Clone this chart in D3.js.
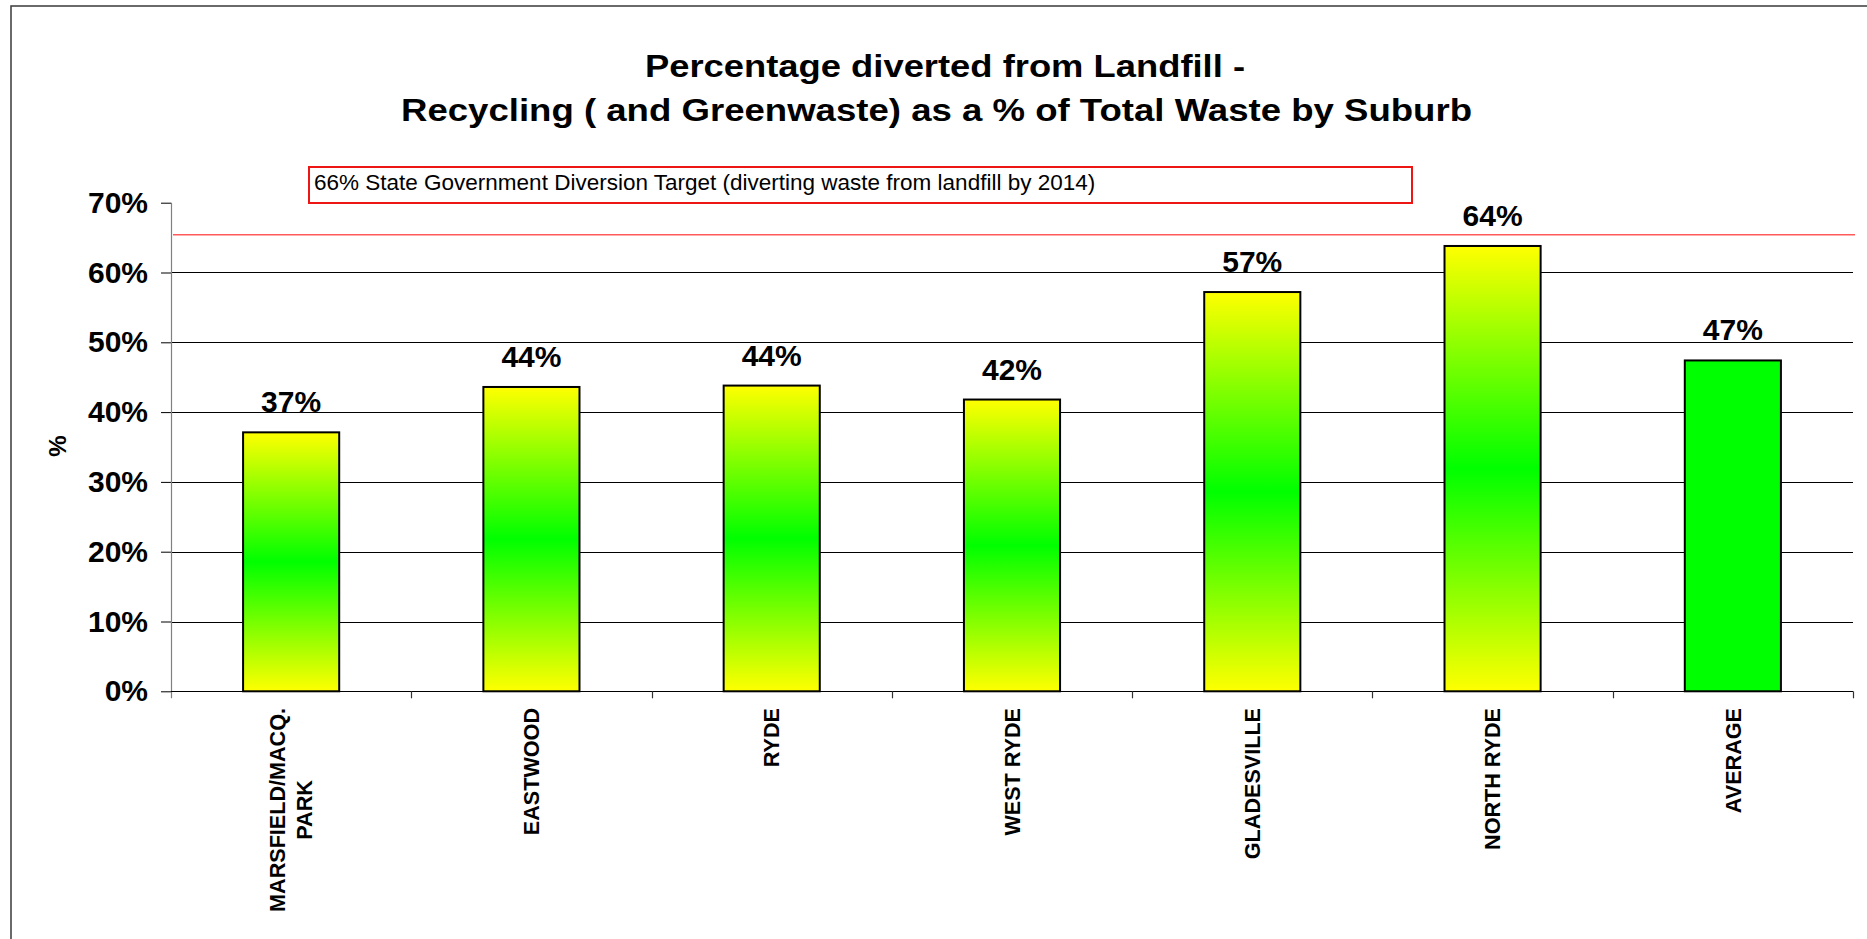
<!DOCTYPE html>
<html>
<head>
  <meta charset="utf-8" />
  <title>Percentage diverted from Landfill</title>
  <style type="text/css">
    body {
      margin: 0;
      background: #fff;
      font-family: Arial, 'Liberation Sans', sans-serif;
    }
  </style>
</head>
<body>
  <div id="graph"></div>

  <script src="https://cdnjs.cloudflare.com/ajax/libs/d3/7.8.5/d3.min.js"></script>
  <script>
// the data
var suburbs = [["MARSFIELD/MACQ.", "PARK"], ["EASTWOOD"], ["RYDE"], ["WEST RYDE"],
               ["GLADESVILLE"], ["NORTH RYDE"], ["AVERAGE"]];
var diverted = [0.371, 0.436, 0.438, 0.418, 0.572, 0.638, 0.474];
var valueLabels = ["37%", "44%", "44%", "42%", "57%", "64%", "47%"];
var yTicks = [0, 0.1, 0.2, 0.3, 0.4, 0.5, 0.6, 0.7];
var targetLine = 0.654;
var targetText = "66% State Government Diversion Target (diverting waste from landfill by 2014)";
var titleLines = ["Percentage diverted from Landfill -",
                  "Recycling ( and Greenwaste) as a % of Total Waste by Suburb"];

var W = 1867, H = 939;
var plot = {left: 171, right: 1853, top: 202.7, bottom: 691.3};

var svg = d3.select("#graph").append("svg")
    .attr("width", W)
    .attr("height", H);

// gradient fill used for the suburb bars
var grad = svg.append("defs").append("linearGradient")
    .attr("id", "yg")
    .attr("x1", 0).attr("y1", 0).attr("x2", 0).attr("y2", 1);
grad.append("stop").attr("offset", "0%").attr("stop-color", "#ffff00");
grad.append("stop").attr("offset", "50%").attr("stop-color", "#00ff00");
grad.append("stop").attr("offset", "100%").attr("stop-color", "#ffff00");

// outer chart frame (runs off the right and bottom of the page)
svg.append("rect")
    .attr("x", 11).attr("y", 6)
    .attr("width", W + 50).attr("height", H + 50)
    .attr("fill", "none")
    .attr("stroke", "#3a3a3a")
    .attr("stroke-width", 1.5);

var keys = suburbs.map(function(d) { return d.join(" "); });

var x = d3.scaleBand()
    .domain(keys)
    .range([plot.left, plot.right])
    .paddingInner(0.6)
    .paddingOuter(0.3);

var y = d3.scaleLinear()
    .domain([0, 0.7])
    .range([plot.bottom, plot.top]);

var step = x.step(), bw = x.bandwidth();

// title
svg.selectAll(".title")
    .data(titleLines)
  .enter().append("text")
    .attr("class", "title")
    .attr("x", function(d, i) { return i === 0 ? 645 : 401; })
    .attr("y", function(d, i) { return i === 0 ? 76.7 : 120.7; })
    .attr("textLength", function(d, i) { return i === 0 ? 600 : 1071; })
    .attr("lengthAdjust", "spacingAndGlyphs")
    .style("font-size", "31.5px")
    .style("font-weight", "bold")
    .text(function(d) { return d; });

// horizontal gridlines
svg.append("g")
    .selectAll("line")
    .data(yTicks.filter(function(t) { return t > 0 && t < 0.7; }))
  .enter().append("line")
    .attr("x1", plot.left).attr("x2", plot.right)
    .attr("y1", function(d) { return Math.round(y(d)) + 0.5; })
    .attr("y2", function(d) { return Math.round(y(d)) + 0.5; })
    .attr("stroke", "#000")
    .attr("stroke-width", 1);

// y axis
var yAxis = svg.append("g")
    .attr("transform", "translate(" + plot.left + ",0)")
    .call(d3.axisLeft(y).tickValues(yTicks).tickSize(10).tickPadding(13)
      .tickFormat(d3.format(".0%")));
yAxis.select(".domain").remove();
yAxis.selectAll(".tick line").attr("stroke", "#000");
yAxis.selectAll("text")
    .style("font-family", "Arial, 'Liberation Sans', sans-serif")
    .style("font-size", "30px")
    .style("font-weight", "bold")
    .attr("fill", "#000");
svg.append("line")
    .attr("x1", plot.left + 0.5).attr("x2", plot.left + 0.5)
    .attr("y1", plot.top).attr("y2", plot.bottom + 7)
    .attr("stroke", "#808080")
    .attr("stroke-width", 1.2);

// "%" axis title
svg.append("text")
    .attr("transform", "translate(58,446) rotate(-90)")
    .attr("text-anchor", "middle")
    .attr("dy", "0.35em")
    .style("font-size", "24px")
    .style("font-weight", "bold")
    .text("%");

// target line
svg.append("line")
    .attr("x1", plot.left + 2).attr("x2", plot.right + 2)
    .attr("y1", y(targetLine)).attr("y2", y(targetLine))
    .attr("stroke", "#ff5a5a")
    .attr("stroke-width", 1.5);

// target legend box
svg.append("rect")
    .attr("x", 309).attr("y", 167)
    .attr("width", 1103).attr("height", 36)
    .attr("fill", "#fff")
    .attr("stroke", "#ee1515")
    .attr("stroke-width", 2);
svg.append("text")
    .attr("x", 314).attr("y", 190)
    .style("font-size", "22.5px")
    .text(targetText);

// bars
svg.append("g")
    .selectAll("rect")
    .data(diverted)
  .enter().append("rect")
    .attr("x", function(d, i) { return x(keys[i]); })
    .attr("y", function(d) { return y(d); })
    .attr("width", bw)
    .attr("height", function(d) { return y(0) - y(d); })
    .attr("fill", function(d, i) { return i === keys.length - 1 ? "#00ff00" : "url(#yg)"; })
    .attr("stroke", "#000")
    .attr("stroke-width", 2);

// value labels
svg.append("g")
    .selectAll("text")
    .data(diverted)
  .enter().append("text")
    .attr("x", function(d, i) { return x(keys[i]) + bw / 2; })
    .attr("y", function(d) { return y(d) - 20; })
    .attr("text-anchor", "middle")
    .style("font-size", "30px")
    .style("font-weight", "bold")
    .text(function(d, i) { return valueLabels[i]; });

// x axis line and category ticks
svg.append("line")
    .attr("x1", plot.left).attr("x2", plot.right)
    .attr("y1", Math.round(y(0)) + 0.5).attr("y2", Math.round(y(0)) + 0.5)
    .attr("stroke", "#000")
    .attr("stroke-width", 1.2);
var bounds = keys.map(function(k) { return x(k) - (step - bw) / 2; }).concat([plot.right]);
svg.append("g")
    .selectAll("line")
    .data(bounds.slice(1))
  .enter().append("line")
    .attr("x1", function(d) { return Math.round(d) + 0.5; })
    .attr("x2", function(d) { return Math.round(d) + 0.5; })
    .attr("y1", y(0)).attr("y2", y(0) + 7)
    .attr("stroke", "#333")
    .attr("stroke-width", 1.2);

// category labels, rotated
var lab = svg.append("g")
    .selectAll("g")
    .data(suburbs)
  .enter().append("g")
    .attr("transform", function(d, i) {
      return "translate(" + (x(keys[i]) + bw / 2) + "," + 708 + ") rotate(-90)";
    });
lab.each(function(lines) {
  var g = d3.select(this);
  var t = g.append("text")
      .style("font-size", "21.6px")
      .style("font-weight", "bold");
  lines.forEach(function(s, j) {
    t.append("tspan")
      .attr("x", 0)
      .attr("y", (j - (lines.length - 1) / 2) * 27)
      .attr("dy", "0.36em")
      .text(s);
  });
  // keep the block anchored at its top, lines centred on each other
  var widths = [];
  t.selectAll("tspan").each(function() { widths.push(this.getComputedTextLength()); });
  var maxW = d3.max(widths);
  t.selectAll("tspan").attr("x", function(s, j) { return -maxW + (maxW - widths[j]) / 2; });
});
</script>
</body>
</html>
